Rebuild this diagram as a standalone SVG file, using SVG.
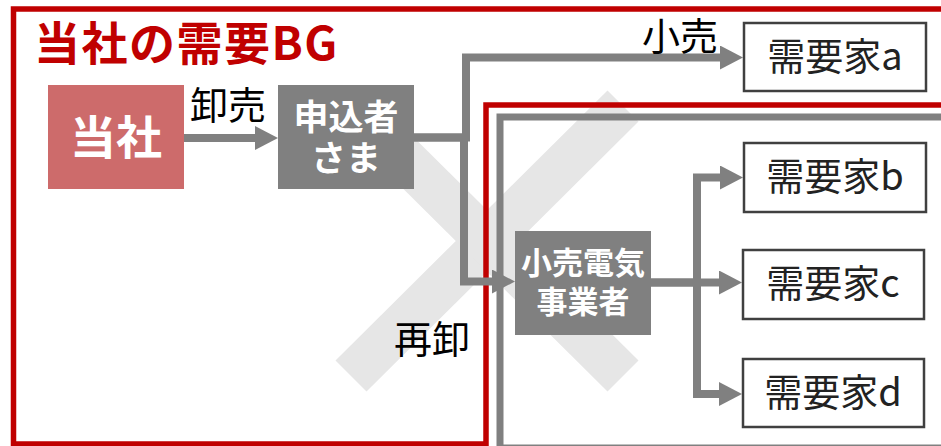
<svg xmlns="http://www.w3.org/2000/svg" width="941" height="446" viewBox="0 0 941 446">
<style>
.t{font-family:"Noto Sans CJK JP","Noto Sans",sans-serif;}
.lbl{font-size:38px;fill:#000;text-anchor:middle;}
.cust{font-size:38px;fill:#222;text-anchor:middle;}
.w{font-weight:bold;fill:#fff;text-anchor:middle;}
.conn{fill:none;stroke:#808080;stroke-width:8;stroke-linejoin:miter;}
.cbox{fill:#fff;stroke:#404040;stroke-width:2.5;}
</style>
<defs>
<marker id="ah" markerUnits="userSpaceOnUse" markerWidth="24" markerHeight="24" refX="0" refY="12" orient="auto" viewBox="0 0 24 24">
<path d="M0,0 L23,12 L0,24 z" fill="#808080"/>
</marker>
</defs>
<rect width="941" height="446" fill="#fff"/>
<g id="cross">
<line x1="351" y1="376" x2="623" y2="106" stroke="#e6e6e6" stroke-width="44"/>
<line x1="351" y1="106" x2="623" y2="376" stroke="#e6e6e6" stroke-width="44"/>
</g>
<g id="own-bg">
<polygon points="13.5,9 950,9 950,105 486,105 486,444 13.5,444" fill="none" stroke="#c00000" stroke-width="5.5"/>
<text class="t" x="34" y="60" font-size="46" font-weight="bold" letter-spacing="1.5" fill="#c00000">当社の需要BG</text>
</g>
<g id="retailer-bg">
<rect x="500" y="117" width="460" height="331" fill="none" stroke="#808080" stroke-width="7"/>
</g>
<g id="connectors">
<path class="conn" d="M184,138 H255" marker-end="url(#ah)"/>
<path class="conn" d="M414,137.5 H466 V57.5 H720" marker-end="url(#ah)"/>
<path class="conn" d="M414,137.5 H464 V281.5 H492" marker-end="url(#ah)"/>
<path class="conn" d="M651,282.5 H697 V177.5 H720" marker-end="url(#ah)"/>
<path class="conn" d="M651,282.5 H719" marker-end="url(#ah)"/>
<path class="conn" d="M697,282.5 V394 H719" marker-end="url(#ah)"/>
<text class="t lbl" x="228" y="119">卸売</text>
<text class="t lbl" x="680" y="50">小売</text>
<text class="t lbl" x="432" y="353">再卸</text>
</g>
<g id="tousha">
<rect x="48" y="85" width="136" height="104" fill="#cd6b6b"/>
<text class="t w" x="116" y="154" font-size="46">当社</text>
</g>
<g id="moushikomisha">
<rect x="278" y="85" width="136" height="104" fill="#808080"/>
<text class="t w" font-size="35"><tspan x="346" y="130">申込者</tspan><tspan x="346" y="171">さま</tspan></text>
</g>
<g id="kouri">
<rect x="515" y="231" width="136" height="104" fill="#808080"/>
<text class="t w" font-size="31"><tspan x="583" y="274">小売電気</tspan><tspan x="583" y="313">事業者</tspan></text>
</g>
<g id="cust-a">
<rect class="cbox" x="744" y="23" width="182" height="68"/>
<text class="t cust" x="835" y="70">需要家a</text>
</g>
<g id="cust-b">
<rect class="cbox" x="744" y="143" width="182" height="69"/>
<text class="t cust" x="835" y="190">需要家b</text>
</g>
<g id="cust-c">
<rect class="cbox" x="743" y="250" width="181" height="69"/>
<text class="t cust" x="833" y="297">需要家c</text>
</g>
<g id="cust-d">
<rect class="cbox" x="743" y="359" width="181" height="68"/>
<text class="t cust" x="833" y="406">需要家d</text>
</g>
</svg>
